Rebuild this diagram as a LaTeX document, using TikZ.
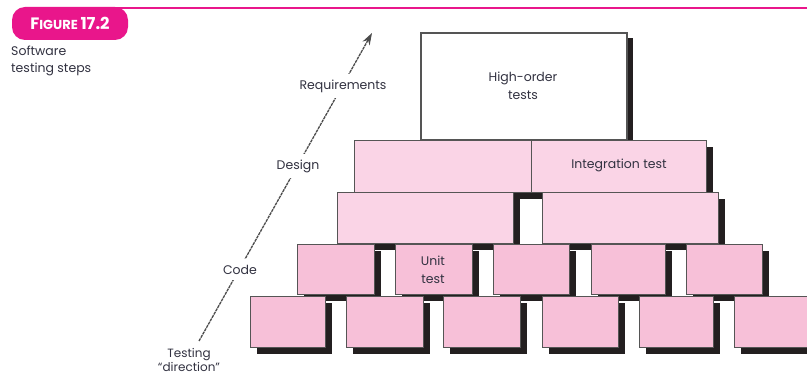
\documentclass[tikz,border=0pt]{standalone}
\usepackage{fontspec}
\setmainfont{Poppins}
\usetikzlibrary{arrows.meta}
\definecolor{pinkA}{RGB}{247,192,216}
\definecolor{pinkB}{RGB}{250,212,230}
\definecolor{shadowc}{RGB}{35,31,32}
\definecolor{edgec}{RGB}{85,85,85}
\definecolor{textc}{RGB}{50,50,65}
\definecolor{magentac}{RGB}{233,22,139}
\tikzset{
  brickA/.style={fill=pinkA, draw=edgec, line width=0.9pt},
  brickB/.style={fill=pinkB, draw=edgec, line width=0.9pt},
  brickW/.style={fill=white, draw=edgec, line width=1.1pt},
  shade/.style={fill=shadowc},
  lbl/.style={font=\fontsize{12.5}{18}\selectfont, text=textc, align=center, inner sep=1pt},
  onarrow/.style={lbl, fill=white, inner xsep=3pt, inner ysep=6pt},
  dirline/.style={draw=black!70, line width=1.3pt, dash pattern=on 3pt off 0.8pt, -{Stealth[length=12pt,width=8pt]}},
}
\begin{document}
\begin{tikzpicture}[x=1pt,y=-1pt]
\clip (0,0) rectangle (807,379);
\fill[white] (0,0) rectangle (807,379);
% header
\draw[magentac, line width=2pt] (115,8) -- (807,8);
\node[fill=magentac, rounded corners=13pt, minimum width=116pt, minimum height=33pt, inner sep=0pt, text=white, font=\bfseries] (fig) at (70,23.5) {\fontsize{16.5}{17}\selectfont F\fontsize{13}{14}\selectfont IGURE \fontsize{16.5}{17}\selectfont 17.2};
\node[lbl, anchor=north west, align=left, font=\fontsize{12.5}{17}\selectfont] (cap) at (10,45) {Software\\testing steps};
% shadows
\foreach \a/\b in {250/325,346/423,443/520,542/618,639/713,734/815}
  \path[shade] (\a+7,296+7) rectangle (\b+7,347+7);
\foreach \a/\b in {297/374,395/472,493/569,591/665,686/762}
  \path[shade] (\a+7,244+7) rectangle (\b+7,294+7);
\foreach \a/\b in {337/513,542/718}
  \path[shade] (\a+7,192+7) rectangle (\b+7,243+7);
\foreach \a/\b in {354/531,531/706}
  \path[shade] (\a+7,140+7) rectangle (\b+7,192+7);
\path[shade] (421+6,33+5) rectangle (627+6,140);
% bricks
\foreach \a/\b in {250/325,346/423,443/520,542/618,639/713,734/815}
  \draw[brickA] (\a,296) rectangle (\b,347);
\foreach \a/\b in {297/374,395/472,493/569,591/665,686/762}
  \draw[brickA] (\a,244) rectangle (\b,294);
\foreach \a/\b in {337/513,542/718}
  \draw[brickB] (\a,192) rectangle (\b,243);
\foreach \a/\b in {354/531,531/706}
  \draw[brickB] (\a,140) rectangle (\b,192);
\draw[brickW] (421,33) rectangle (627,140);
% box labels
\node[lbl] (hot) at (523,86) {High-order\\tests};
\node[lbl] (it) at (619,165) {Integration test};
\node[lbl] (ut) at (433,270) {Unit\\test};
% direction arrow
\coordinate (dirstart) at (199,341);
\coordinate (dirend) at (372,33);
\draw[dirline] (dirstart) -- (dirend);
\node[onarrow] (req) at (343,86) {Requirements};
\node[onarrow] (des) at (298,166) {Design};
\node[onarrow] (code) at (240,269.5) {Code};
\node[lbl, font=\fontsize{12}{14.5}\selectfont] (tdir) at (189,360) {Testing\\``direction''};
\end{tikzpicture}
\end{document}
